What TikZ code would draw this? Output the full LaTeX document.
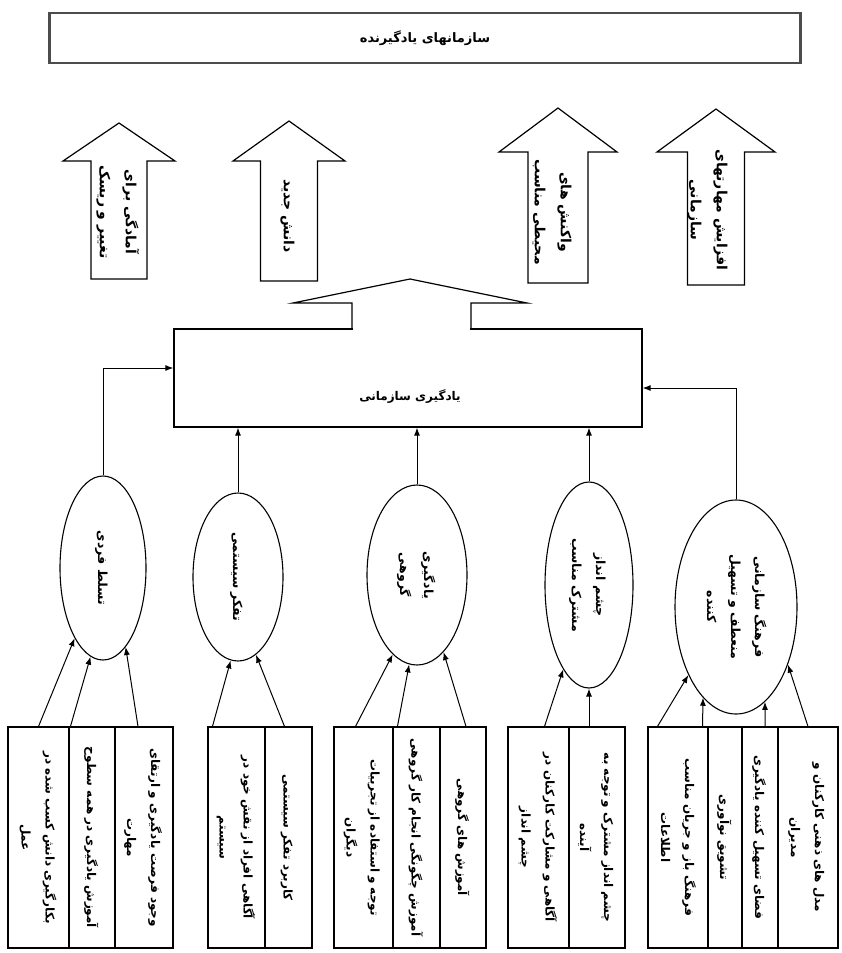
\documentclass[tikz,border=0pt]{standalone}
\usepackage{fontspec}
\newfontfamily\farsi[Script=Arabic]{DejaVu Sans}
\TeXXeTstate=1
\usetikzlibrary{positioning,shapes.geometric,arrows.meta}

\newcommand{\fa}[1]{\beginR #1\endR}
\newcommand{\vt}[1]{\rotatebox{-90}{\begin{tabular}{@{}c@{}}#1\end{tabular}}}

\tikzset{
  cell/.style={draw, line width=1.1pt, minimum height=221pt, inner sep=0pt,
    font=\farsi\bfseries\fontsize{12}{24}\selectfont},
  oval/.style={draw, ellipse, line width=1.1pt, inner sep=0pt,
    font=\farsi\bfseries\fontsize{12.5}{24}\selectfont},
  outcome/.style={inner sep=0pt, font=\farsi\bfseries\fontsize{14}{26}\selectfont},
  link/.style={-{Latex[length=8pt,width=6pt]}, line width=1pt},
}

\begin{document}
\begin{tikzpicture}[x=1pt, y=-1pt]
\useasboundingbox (0,0) rectangle (842,953);

% title
\node[draw=black!70, line width=2.5pt, minimum width=751pt, minimum height=50pt,
  font=\farsi\bfseries\fontsize{13}{16}\selectfont] (title) at (425,38)
  {\fa{سازمانهای یادگیرنده}};

% outcome arrows
\foreach \cx/\tip/\base/\hw/\sw/\bot in {119/123/161/56/28/279, 289/121/161/56/28.5/281,
    558/108/152/59/30/283, 716/109/152/59/28.5/285}
  \draw[line width=1.2pt] (\cx-\sw,\bot) -- (\cx-\sw,\base) -- (\cx-\hw,\base) -- (\cx,\tip)
    -- (\cx+\hw,\base) -- (\cx+\sw,\base) -- (\cx+\sw,\bot) -- cycle;
\node[outcome] (out1) at (118,212) {\vt{\fa{آمادگی برای}\\\fa{تغییر و ریسک}}};
\node[outcome] (out2) at (289,216) {\vt{\fa{دانش جدید}}};
\node[outcome] (out3) at (553,212) {\vt{\fa{واکنش های}\\\fa{محیطی مناسب}}};
\node[outcome] (out4) at (709,210) {\vt{\fa{افزایش مهارتهای}\\\fa{سازمانی}}};

% organisational learning box with its arrow
\node[draw, line width=1.2pt, minimum width=468pt, minimum height=98pt] (org) at (408,378) {};
\node[font=\farsi\bfseries\fontsize{12}{15}\selectfont] (orgtext) at (410,397)
  {\fa{یادگیری سازمانی}};
\fill[white] (353,326) rectangle (470,332);
\draw[line width=1.2pt] (352,329) -- (352,303) -- (293,303) -- (410,279) -- (527,303)
  -- (471,303) -- (471,329);

% disciplines
\node[oval, minimum width=86pt, minimum height=184pt] (e1) at (103,568) {\vt{\fa{تسلط فردی}}};
\node[oval, minimum width=90pt, minimum height=168pt] (e2) at (238,577) {\vt{\fa{تفکر سیستمی}}};
\node[oval, minimum width=100pt, minimum height=180pt] (e3) at (417,575)
  {\vt{\fa{یادگیری}\\\fa{گروهی}}};
\node[oval, minimum width=88pt, minimum height=206pt] (e4) at (589,585)
  {\vt{\fa{چشم انداز}\\\fa{مشترک مناسب}}};
\node[oval, minimum width=122pt, minimum height=214pt] (e5) at (736,607)
  {\vt{\fa{فرهنگ سازمانی}\\\fa{منعطف و تسهیل}\\\fa{کننده}}};

% factors
\node[cell, minimum width=61pt] (b11) at (38.5,837.5) {\vt{\fa{بکارگیری دانش کسب شده در}\\\fa{عمل}}};
\node[cell, minimum width=46pt] (b12) at (92,837.5) {\vt{\fa{آموزش یادگیری در همه سطوح}}};
\node[cell, minimum width=58pt] (b13) at (144,837.5) {\vt{\fa{وجود فرصت یادگیری و ارتقای}\\\fa{مهارت}}};
\node[cell, minimum width=57pt] (b21) at (236.5,837.5) {\vt{\fa{آگاهی افراد از نقش خود در}\\\fa{سیستم}}};
\node[cell, minimum width=47pt] (b22) at (288.5,837.5) {\vt{\fa{کاربرد تفکر سیستمی}}};
\node[cell, minimum width=59pt] (b31) at (363.5,837.5) {\vt{\fa{توجه و استفاده از تجربیات}\\\fa{دیگران}}};
\node[cell, minimum width=47pt] (b32) at (416.5,837.5) {\vt{\fa{آموزش چگونگی انجام کار گروهی}}};
\node[cell, minimum width=46pt] (b33) at (463,837.5) {\vt{\fa{آموزش های گروهی}}};
\node[cell, minimum width=61pt] (b41) at (538.5,837.5) {\vt{\fa{آگاهی و مشارکت کارکنان در}\\\fa{چشم انداز}}};
\node[cell, minimum width=56pt] (b42) at (597,837.5) {\vt{\fa{چشم انداز مشترک و توجه به}\\\fa{آینده}}};
\node[cell, minimum width=60pt] (b51) at (678,837.5) {\vt{\fa{فرهنگ باز و جریان مناسب}\\\fa{اطلاعات}}};
\node[cell, minimum width=34pt] (b52) at (725,837.5) {\vt{\fa{تشویق نوآوری}}};
\node[cell, minimum width=36pt] (b53) at (760,837.5) {\vt{\fa{فضای تسهیل کننده یادگیری}}};
\node[cell, minimum width=60pt] (b54) at (808,837.5) {\vt{\fa{مدل های ذهنی کارکنان و}\\\fa{مدیران}}};

% disciplines feed organisational learning
\draw[link] (e1.north) |- ([yshift=10pt]org.west);
\draw[link] (e2.north) -- (e2.north |- org.south);
\draw[link] (e3.north) -- (e3.north |- org.south);
\draw[link] (e4.north) -- (e4.north |- org.south);
\draw[link] (e5.north) |- ([yshift=-10pt]org.east);

% factors feed disciplines
\draw[link] (b11.north) -- (e1.248);
\draw[link] ([xshift=2pt]b12.north west) -- (e1.262);
\draw[link] ([xshift=-6pt]b13.north) -- (e1.286);
\draw[link] ([xshift=5pt]b21.north west) -- (e2.265);
\draw[link] ([xshift=-4pt]b22.north) -- (e2.283);
\draw[link] ([xshift=-8pt]b31.north) -- (e3.253);
\draw[link] ([xshift=5pt]b32.north west) -- (e3.265);
\draw[link] ([xshift=3pt]b33.north) -- (e3.289);
\draw[link] ([xshift=6pt]b41.north) -- (e4.253);
\draw[link] (b42.north -| e4.south) -- (e4.south);
\draw[link] ([xshift=10pt]b51.north west) -- (e5.235);
\draw[link] ([xshift=-6pt]b51.north east) -- (e5.250);
\draw[link] ([xshift=5pt]b53.north) -- (e5.287);
\draw[link] (b54.north) -- (e5.312);
\end{tikzpicture}
\end{document}
